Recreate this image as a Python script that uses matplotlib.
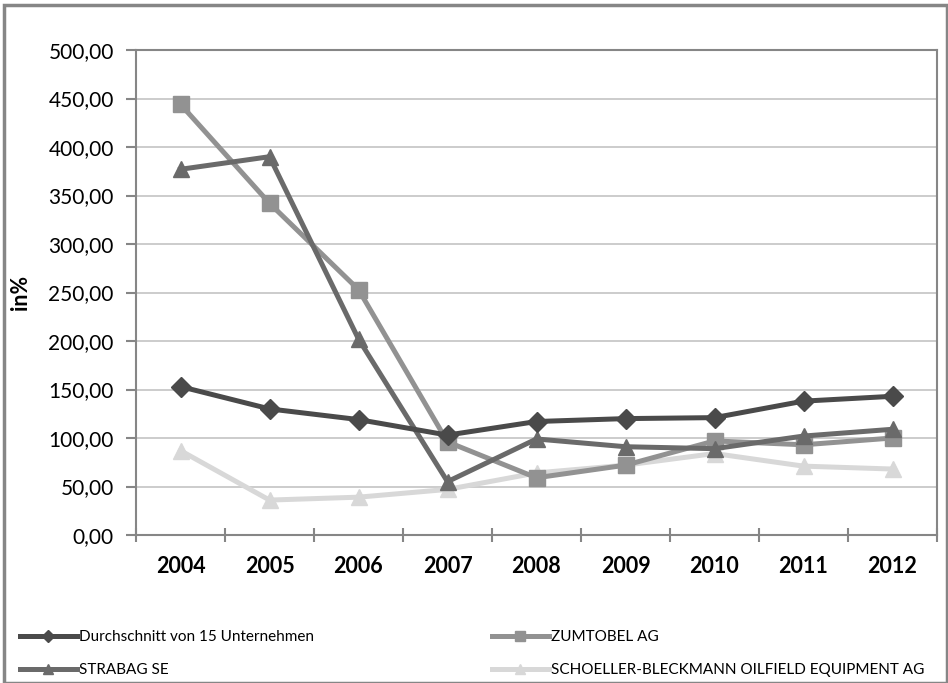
import matplotlib.pyplot as plt
from matplotlib.ticker import FuncFormatter, FixedLocator
from matplotlib.patches import Rectangle

# data
years = ["2004", "2005", "2006", "2007", "2008", "2009", "2010", "2011", "2012"]
durchschnitt = [153, 130, 119, 103, 117, 120, 121, 138, 143]
zumtobel = [444, 342, 253, 96, 59, 72, 97, 93, 100]
strabag = [377, 390, 202, 55, 99, 91, 89, 102, 109]
schoeller = [87, 36, 39, 47, 64, 72, 84, 71, 68]

plt.rcParams['font.family'] = ['Lato', 'DejaVu Sans']

W, H = 948, 683
fig = plt.figure(figsize=(W / 100, H / 100), dpi=100)
fig.patches.append(Rectangle((4 / W, 0), 1 - 5 / W, 1 - 5 / H, transform=fig.transFigure,
                             fill=False, edgecolor="#868686", linewidth=2.5))

ax = fig.add_axes([136 / W, 1 - 535 / H, 801 / W, 485 / H])
x = list(range(len(years)))

l1, = ax.plot(x, durchschnitt, color="#4a4a4a", lw=3.6, marker="D", ms=10, label="Durchschnitt von 15 Unternehmen", zorder=5)
l2, = ax.plot(x, zumtobel, color="#929292", lw=3.6, marker="s", ms=12, label="ZUMTOBEL AG", zorder=3)
l3, = ax.plot(x, strabag, color="#6a6a6a", lw=3.6, marker="^", ms=12, label="STRABAG SE", zorder=4)
l4, = ax.plot(x, schoeller, color="#d8d8d8", lw=3.6, marker="^", ms=12, label="SCHOELLER-BLECKMANN OILFIELD EQUIPMENT AG", zorder=2)

ax.set_xlim(-0.5, 8.5)
ax.set_ylim(0, 500)
ax.set_yticks(range(0, 501, 50))
ax.yaxis.set_major_formatter(FuncFormatter(lambda v, p: f"{v:.2f}".replace(".", ",")))
ax.grid(axis="y", color="#c4c4c4", lw=1.2)
ax.set_axisbelow(True)

ax.xaxis.set_major_locator(FixedLocator([i - 0.5 for i in range(len(years) + 1)]))
ax.xaxis.set_minor_locator(FixedLocator(x))
ax.set_xticklabels([], minor=False)
ax.set_xticklabels(years, minor=True, fontweight="bold", fontsize=15.5)
ax.tick_params(axis="x", which="major", direction="inout", length=10, color="#868686", width=1.5)
ax.tick_params(axis="x", which="minor", length=0, pad=15)
ax.tick_params(axis="y", direction="out", length=7, color="#868686", width=1.5, labelsize=15, pad=9)

for s in ["left", "bottom", "right", "top"]:
    ax.spines[s].set_color("#868686")
    ax.spines[s].set_linewidth(1.5)

fig.text(20 / W, 1 - 292 / H, "in%", rotation=90, fontweight="bold", fontsize=15.5, ha="center", va="center")

# legend in two columns, placed like the original
for handles, x0 in [([l1, l3], 20), ([l2, l4], 492)]:
    leg = fig.legend(handles, [h.get_label() for h in handles], loc="upper left",
                     bbox_to_anchor=(x0 / W, 1 - 630 / H), frameon=False, fontsize=11,
                     handlelength=3.7, handletextpad=0.15, markerscale=0.6,
                     labelspacing=1.25, borderaxespad=0, borderpad=0)

fig.savefig("out.png", dpi=100)
